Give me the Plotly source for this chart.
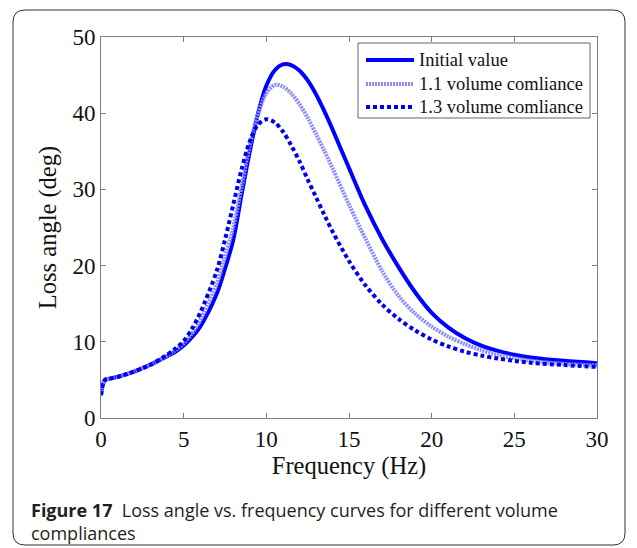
import plotly.graph_objects as go

# ---- data ----
freq_hz = [0, 0.1, 0.25, 0.5, 1, 2, 3, 4, 4.5, 5, 5.5, 6, 7, 7.5, 8, 8.5, 9, 9.5, 10, 10.5, 11, 11.5,
           12, 12.5, 13, 13.5, 14, 15, 16, 17, 18, 19, 20, 21, 22, 23, 24, 25, 26, 28, 30]

initial_value = [3.0, 4.3, 5.0, 5.15, 5.4, 6.1, 7.0, 8.1, 8.7, 9.5, 10.6, 12.0, 16.3, 19.6, 23.4, 29.3,
                 35.0, 40.0, 43.6, 45.6, 46.4, 46.3, 45.6, 44.3, 42.5, 40.3, 37.9, 32.8, 27.8, 23.5,
                 19.8, 16.5, 13.8, 11.9, 10.5, 9.5, 8.8, 8.3, 7.95, 7.5, 7.2]

vol_1_1 = [3.0, 4.3, 5.0, 5.15, 5.4, 6.1, 7.0, 8.2, 8.9, 9.8, 11.1, 12.8, 17.6, 21.2, 25.0, 30.3,
           35.8, 39.9, 42.6, 43.7, 43.5, 42.6, 41.2, 39.4, 37.3, 35.1, 32.8, 28.0, 23.5, 19.3,
           16.0, 13.7, 12.0, 10.7, 9.7, 8.9, 8.3, 7.85, 7.5, 7.1, 6.9]

vol_1_3 = [3.0, 4.3, 5.0, 5.15, 5.4, 6.1, 7.0, 8.3, 9.1, 10.1, 11.7, 13.8, 19.3, 23.4, 28.0, 32.6,
           36.3, 38.5, 39.2, 38.8, 37.6, 35.8, 33.7, 31.3, 29.0, 26.7, 24.5, 20.6, 17.4, 14.9,
           13.0, 11.5, 10.3, 9.4, 8.7, 8.2, 7.8, 7.5, 7.25, 6.95, 6.7]

series_names = ["Initial value", "1.1 volume comliance", "1.3 volume comliance"]
x_ticks = [0, 5, 10, 15, 20, 25, 30]
y_ticks = [0, 10, 20, 30, 40, 50]

# ---- layout geometry ----
W, H = 637, 548
L, R, T, B = 101, 597, 37, 418
pw, ph = R - L, B - T


def px(x):
    return (x - L) / pw


def py(y):
    return (B - y) / ph


serif = "Liberation Serif, Times New Roman, serif"
ink = "#111111"

styles = [
    dict(color="#0000ff", width=4),
    dict(color="#8a8aff", width=4, dash="2px,1px"),
    dict(color="#0000ee", width=4, dash="4px,3px"),
]
series = [initial_value, vol_1_1, vol_1_3]

fig = go.Figure()
for name, ys, st in zip(series_names, series, styles):
    fig.add_trace(go.Scatter(x=freq_hz, y=ys, name=name, mode="lines", showlegend=False,
                             line=dict(shape="spline", smoothing=0.9, **st)))

axis_common = dict(showgrid=False, zeroline=False, showline=True, linecolor="#808080", linewidth=1,
                   mirror="ticks", ticks="inside", ticklen=5, tickcolor="#808080",
                   tickfont=dict(family=serif, size=23, color=ink))

fig.update_xaxes(range=[0, 30], tickvals=x_ticks, **axis_common,
                 title=dict(text="Frequency (Hz)", font=dict(family=serif, size=24.5, color=ink), standoff=2))
fig.update_yaxes(range=[0, 50], tickvals=y_ticks, **axis_common,
                 title=dict(text="Loss angle (deg)", font=dict(family=serif, size=24.5, color=ink), standoff=8))

# rounded frame around the whole figure
x0, x1, y0, y1, r = px(13), px(625), py(10), py(545), 12
rx, ry = r / pw, r / ph
path = (f"M {x0+rx},{y0} L {x1-rx},{y0} Q {x1},{y0} {x1},{y0-ry} "
        f"L {x1},{y1+ry} Q {x1},{y1} {x1-rx},{y1} L {x0+rx},{y1} Q {x0},{y1} {x0},{y1+ry} "
        f"L {x0},{y0-ry} Q {x0},{y0} {x0+rx},{y0} Z")
fig.add_shape(type="path", path=path, xref="paper", yref="paper",
              line=dict(color="#333333", width=1), fillcolor="rgba(0,0,0,0)", layer="below")

# legend box drawn like the original (long line samples)
fig.add_shape(type="rect", xref="paper", yref="paper", x0=px(358), x1=px(590), y0=py(43), y1=py(118),
              line=dict(color="#666666", width=1), fillcolor="white", layer="above")
rows = [60, 84, 107]
for name, st, ry_ in zip(series_names, styles, rows):
    fig.add_shape(type="line", xref="paper", yref="paper", x0=px(366), x1=px(414), y0=py(ry_), y1=py(ry_),
                  line=dict(color=st["color"], width=st["width"], dash=st.get("dash", "solid")), layer="above")
    fig.add_annotation(xref="paper", yref="paper", x=px(417), y=py(ry_), xanchor="left", yanchor="middle",
                       showarrow=False, text=name, font=dict(family=serif, size=18.5, color=ink))

fig.add_annotation(xref="paper", yref="paper", x=px(29), y=py(496), xanchor="left", yanchor="top",
                   align="left", showarrow=False,
                   text="<b>Figure 17</b>  Loss angle vs. frequency curves for different volume<br>compliances",
                   font=dict(family="Open Sans, sans-serif", size=18, color="#231f20"))

fig.update_layout(
    width=W, height=H,
    margin=dict(l=L, r=W - R, t=T, b=H - B),
    paper_bgcolor="white", plot_bgcolor="white",
    showlegend=False,
)

fig.write_html("out.html")
